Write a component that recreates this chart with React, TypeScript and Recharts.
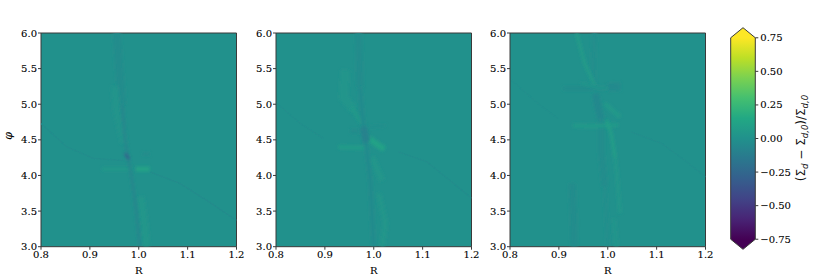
import { Area, ComposedChart, Line, LineChart, ReferenceArea, XAxis, YAxis } from "recharts";

type Pt = [number, number]; // [R, phi]

const rTicks = [0.8, 0.9, 1.0, 1.1, 1.2];
const phiTicks = [3.0, 3.5, 4.0, 4.5, 5.0, 5.5, 6.0];
const cbarTicks = [-0.75, -0.5, -0.25, 0, 0.25, 0.5, 0.75];

// matplotlib viridis, evenly spaced from -0.75 to 0.75
const viridisStops = ["#440154", "#482475", "#414487", "#355f8d", "#2a788e", "#21918c", "#22a884", "#44bf70", "#7ad151", "#bddf26", "#fde725"];

const cbarShapeX = [0, 0.5, 1];
const cbarShapeLow = [-0.75, -0.825, -0.75];
const cbarShapeHigh = [0.75, 0.825, 0.75];
const cbarOutlineX = [0, 0.5, 1, 1, 0.5, 0, 0];
const cbarOutlineY = [0.75, 0.825, 0.75, -0.75, -0.825, -0.75, 0.75];

// panel 1
const p1WaveL: Pt[] = [[0.8, 4.73], [0.853, 4.4], [0.907, 4.24], [0.969, 4.21]];
const p1WaveR: Pt[] = [[1.023, 4.05], [1.084, 3.89], [1.139, 3.65], [1.2, 3.37]];
const p1BandTop: Pt[] = [[0.955, 6.0], [0.96, 5.5], [0.966, 5.0]];
const p1Core: Pt[] = [[0.966, 5.0], [0.972, 4.5], [0.978, 4.25], [0.985, 4.0], [0.995, 3.5], [1.002, 3.0]];
const p1Knot: Pt[] = [[0.972, 4.31], [0.98, 4.23]];
const p1GreenUp: Pt[] = [[0.95, 5.25], [0.955, 4.9], [0.97, 4.45]];
const p1GreenLow: Pt[] = [[1.004, 3.7], [1.012, 3.3], [1.016, 3.0]];
const p1BarL: Pt[] = [[0.925, 4.09], [0.96, 4.09], [0.985, 4.09]];
const p1BarR: Pt[] = [[0.994, 4.09], [1.005, 4.09], [1.022, 4.09]];
const p1BlobR: Pt[] = [[1.008, 4.3], [1.022, 4.3]];
const p1Tracks = [p1BandTop, p1GreenUp, p1GreenLow, p1WaveL, p1WaveR, p1BarL, p1BarR, p1BlobR, p1Core, p1Knot];
const p1Levels = [-0.03, 0.02, 0.035, -0.022, -0.028, 0.05, 0.12, -0.035, -0.07, -0.28];
const p1Widths = [8, 7, 7, 1.4, 1.4, 3.5, 5, 3, 2.6, 2.6];

// panel 2
const p2WaveL: Pt[] = [[0.802, 5.01], [0.85, 4.73], [0.897, 4.52]];
const p2WaveR: Pt[] = [[1.05, 4.33], [1.109, 4.19], [1.156, 3.93], [1.2, 3.68]];
const p2BandTop: Pt[] = [[0.969, 6.0], [0.972, 5.24]];
const p2Core: Pt[] = [[0.972, 5.24], [0.979, 4.68], [0.985, 4.4], [0.993, 3.93], [1.0, 3.0]];
const p2Knot: Pt[] = [[0.979, 4.68], [0.985, 4.47]];
const p2Wedge: Pt[] = [[0.942, 5.48], [0.938, 5.1], [0.959, 4.92]];
const p2WedgeIn: Pt[] = [[0.955, 4.95], [0.976, 4.73]];
const p2Bar: Pt[] = [[0.928, 4.4], [0.966, 4.39], [0.985, 4.39]];
const p2BarHot: Pt[] = [[0.99, 4.52], [1.01, 4.42], [1.022, 4.37]];
const p2HazeL: Pt[] = [[0.952, 4.62], [0.97, 4.62]];
const p2HazeR: Pt[] = [[0.99, 4.68], [1.024, 4.7]];
const p2LowA: Pt[] = [[0.996, 4.26], [1.017, 3.93]];
const p2LowB: Pt[] = [[1.01, 3.75], [1.024, 3.33], [1.017, 3.0]];
const p2Tracks = [p2BandTop, p2Wedge, p2LowA, p2LowB, p2HazeL, p2HazeR, p2WaveL, p2WaveR, p2WedgeIn, p2Bar, p2BarHot, p2Core, p2Knot];
const p2Levels = [-0.03, 0.025, 0.035, 0.03, -0.03, -0.02, -0.02, -0.024, 0.05, 0.07, 0.11, -0.04, -0.09];
const p2Widths = [7, 9, 6, 5, 5, 2.5, 1.4, 1.4, 4, 4, 6, 4, 7];

// panel 3
const p3WaveL: Pt[] = [[0.803, 5.34], [0.857, 5.01], [0.898, 4.8]];
const p3WaveR: Pt[] = [[1.048, 4.61], [1.11, 4.45], [1.158, 4.21], [1.2, 3.98]];
const p3BandTop: Pt[] = [[0.973, 6.0], [0.97, 5.57], [0.972, 5.25]];
const p3Knot: Pt[] = [[0.975, 5.15], [0.98, 4.96], [0.987, 4.78]];
const p3Core: Pt[] = [[0.987, 4.78], [0.987, 4.31], [0.994, 3.84]];
const p3CoreLow: Pt[] = [[0.994, 3.84], [0.998, 3.3], [1.0, 3.0]];
const p3BarDark: Pt[] = [[0.909, 5.22], [0.96, 5.22], [1.0, 5.23]];
const p3BlobR: Pt[] = [[1.0, 5.24], [1.026, 5.25]];
const p3GreenUp: Pt[] = [[0.936, 6.0], [0.953, 5.57], [0.973, 5.27]];
const p3GreenShort: Pt[] = [[0.945, 5.3], [0.975, 5.24], [1.0, 5.22]];
const p3GreenMid: Pt[] = [[0.994, 5.01], [1.025, 4.82]];
const p3Bar: Pt[] = [[0.929, 4.7], [0.967, 4.69], [1.021, 4.71]];
const p3DiagA: Pt[] = [[0.997, 4.78], [1.007, 4.59], [1.015, 4.25]];
const p3DiagB: Pt[] = [[1.015, 4.25], [1.018, 4.07], [1.025, 3.47]];
const p3Foot: Pt[] = [[1.012, 3.4], [1.018, 3.0]];
const p3Vert: Pt[] = [[0.927, 3.89], [0.93, 3.4], [0.931, 3.0]];
const p3Tracks = [p3BandTop, p3Vert, p3Foot, p3CoreLow, p3Core, p3WaveL, p3WaveR, p3BarDark, p3BlobR, p3GreenUp, p3GreenShort, p3GreenMid, p3Bar, p3DiagB, p3DiagA, p3Knot];
const p3Levels = [-0.02, -0.03, 0.025, -0.016, -0.03, -0.015, -0.016, -0.03, -0.045, 0.07, 0.035, 0.06, 0.06, 0.045, 0.09, -0.055];
const p3Widths = [5, 7, 4, 3, 6, 1.4, 1.4, 4, 8, 3, 2.5, 4, 4, 3, 3, 7];

const W = 245;
const H = 277;
const FRAME = "#3a3a3a";
const SERIF = "'DejaVu Serif', serif";

function viridis(v: number) {
  const t = Math.max(0, Math.min(1, (v + 0.75) / 1.5)) * (viridisStops.length - 1);
  const i = Math.min(Math.floor(t), viridisStops.length - 2);
  const f = t - i;
  const hex = (s: string, k: number) => parseInt(s.slice(k, k + 2), 16);
  const mix = (k: number) => Math.round(hex(viridisStops[i], k) * (1 - f) + hex(viridisStops[i + 1], k) * f);
  return `rgb(${mix(1)},${mix(3)},${mix(5)})`;
}

const tickStyle = { fontFamily: SERIF, fontSize: 10, fill: "#000", stroke: "#000", strokeWidth: 0.1 };

function Panel({ left, tracks, levels, widths, showPhi }: { left: number; tracks: Pt[][]; levels: number[]; widths: number[]; showPhi?: boolean }) {
  return (
    <div style={{ position: "absolute", left, top: 0 }}>
      <LineChart width={W} height={H} margin={{ top: 33, right: 8.5, bottom: 0, left: 5 }}>
        <defs>
          <filter id="thin" filterUnits="userSpaceOnUse" x={0} y={0} width={W} height={H}>
            <feGaussianBlur stdDeviation={0.7} />
          </filter>
          <filter id="soft" filterUnits="userSpaceOnUse" x={0} y={0} width={W} height={H}>
            <feGaussianBlur stdDeviation={1.7} />
          </filter>
        </defs>
        <XAxis
          type="number"
          dataKey="R"
          domain={[0.8, 1.2]}
          allowDataOverflow
          ticks={rTicks}
          interval={0}
          height={30.3}
          tick={tickStyle}
          tickSize={3}
          tickMargin={1}
          tickFormatter={(v: number) => v.toFixed(1)}
          axisLine={false}
          tickLine={{ stroke: FRAME }}
          label={{ value: "R", position: "insideBottom", offset: 3, style: tickStyle }}
        />
        <YAxis
          type="number"
          dataKey="phi"
          domain={[3, 6]}
          allowDataOverflow
          ticks={phiTicks}
          interval={0}
          width={36}
          tick={tickStyle}
          tickSize={3}
          tickMargin={1}
          tickFormatter={(v: number) => v.toFixed(1)}
          axisLine={false}
          tickLine={{ stroke: FRAME }}
          label={showPhi ? { value: "φ", angle: -90, position: "insideLeft", offset: 3, style: { ...tickStyle, fontStyle: "italic", fontSize: 11 } } : undefined}
        />
        <ReferenceArea x1={0.8} x2={1.2} y1={3} y2={6} fill={viridis(0)} fillOpacity={1} stroke="none" />
        {tracks.map((pts, i) => (
          <Line
            key={i}
            data={pts.map(([R, phi]) => ({ R, phi }))}
            dataKey="phi"
            stroke={viridis(levels[i])}
            strokeWidth={widths[i]}
            strokeLinecap="butt"
            strokeLinejoin="round"
            filter={widths[i] < 2 ? "url(#thin)" : "url(#soft)"}
            dot={false}
            activeDot={false}
            legendType="none"
            isAnimationActive={false}
          />
        ))}
        <ReferenceArea x1={0.8} x2={1.2} y1={3} y2={6} fill="none" stroke={FRAME} strokeWidth={1} />
      </LineChart>
    </div>
  );
}

function Colorbar() {
  const shape = cbarShapeX.map((x, i) => ({ x, range: [cbarShapeLow[i], cbarShapeHigh[i]] }));
  const outline = cbarOutlineX.map((x, i) => ({ x, y: cbarOutlineY[i] }));
  const sub = { fontSize: 8.5, fontStyle: "italic" };
  return (
    <div style={{ position: "absolute", left: 720, top: 0 }}>
      <ComposedChart width={110} height={H} margin={{ top: 27.7, right: 0, bottom: 27.7, left: 10.7 }}>
        <defs>
          <linearGradient id="viridisBar" x1="0" y1="0" x2="0" y2="1">
            {[...viridisStops].reverse().map((c, i) => {
              const v = 0.75 - (1.5 * i) / (viridisStops.length - 1);
              return <stop key={c} offset={(0.825 - v) / 1.65} stopColor={c} />;
            })}
          </linearGradient>
        </defs>
        <XAxis type="number" dataKey="x" domain={[0, 1]} hide />
        <YAxis
          orientation="right"
          type="number"
          domain={[-0.825, 0.825]}
          ticks={cbarTicks}
          interval={0}
          width={74.7}
          tick={{ ...tickStyle, textAnchor: "start" }}
          tickSize={3}
          tickMargin={2}
          tickFormatter={(v: number) => v.toFixed(2).replace("-", "\u2212")}
          axisLine={false}
          tickLine={{ stroke: FRAME }}
        />
        <Area data={shape} dataKey="range" fill="url(#viridisBar)" fillOpacity={1} stroke="none" dot={false} activeDot={false} isAnimationActive={false} />
        <Line data={outline} dataKey="y" stroke={FRAME} strokeWidth={1} dot={false} activeDot={false} isAnimationActive={false} />
        <text transform="translate(85,138) rotate(-90)" textAnchor="middle" fontFamily="'DejaVu Sans', sans-serif" fontSize={12} fill="#111">
          <tspan>(Σ</tspan>
          <tspan dy={2.5} {...sub}>d</tspan>
          <tspan dy={-2.5}> − Σ</tspan>
          <tspan dy={2.5} {...sub}>d,0</tspan>
          <tspan dy={-2.5}>)/Σ</tspan>
          <tspan dy={2.5} {...sub}>d,0</tspan>
        </text>
      </ComposedChart>
    </div>
  );
}

export default function App() {
  return (
    <div style={{ position: "absolute", left: 0, top: 0, width: 830, height: 277, background: "#fff", overflow: "hidden" }}>
      <Panel left={0} tracks={p1Tracks} levels={p1Levels} widths={p1Widths} showPhi />
      <Panel left={234.7} tracks={p2Tracks} levels={p2Levels} widths={p2Widths} />
      <Panel left={469.3} tracks={p3Tracks} levels={p3Levels} widths={p3Widths} />
      <Colorbar />
    </div>
  );
}
